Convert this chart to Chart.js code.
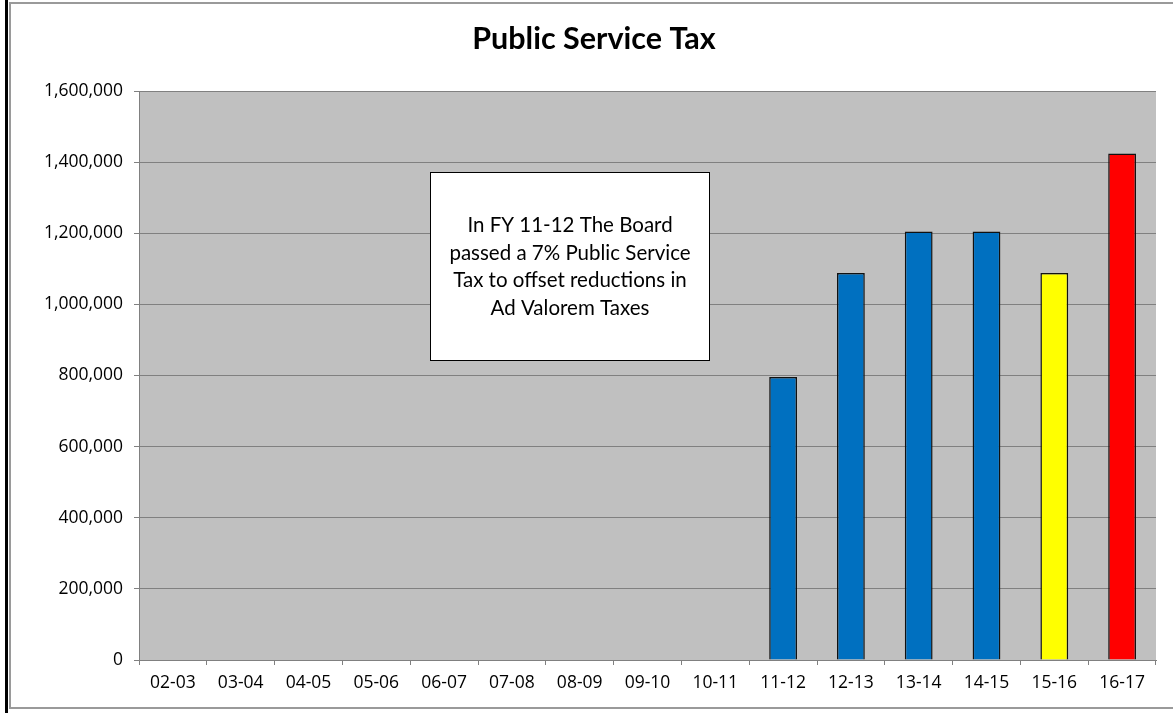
<!DOCTYPE html>
<html>
<head>
<meta charset="utf-8">
<script src="https://cdn.jsdelivr.net/npm/chart.js@4.4.1/dist/chart.umd.min.js"></script>
<style>
  html, body { margin: 0; padding: 0; background: #ffffff; }
  #wrap { position: relative; width: 1173px; height: 713px; }
  canvas { display: block; }
</style>
</head>
<body>
<div id="wrap"><canvas id="c" width="1173" height="713"></canvas></div>
<script>
// ---- data ----
const categories = ['02-03','03-04','04-05','05-06','06-07','07-08','08-09','09-10','10-11','11-12','12-13','13-14','14-15','15-16','16-17'];
const taxValues  = [null, null, null, null, null, null, null, null, null, 796000, 1088000, 1205000, 1205000, 1088000, 1424000];
const barColors  = ['#0070C0','#0070C0','#0070C0','#0070C0','#0070C0','#0070C0','#0070C0','#0070C0','#0070C0','#0070C0','#0070C0','#0070C0','#0070C0','#FFFF00','#FF0000'];
const yTicks     = [0, 200000, 400000, 600000, 800000, 1000000, 1200000, 1400000, 1600000];
const titleText  = 'Public Service Tax';
const noteLines  = ['In FY 11-12 The Board', 'passed a 7% Public Service', 'Tax to offset reductions in', 'Ad Valorem Taxes'];

const decor = {
  id: 'decor',
  beforeDraw(chart) {
    const ctx = chart.ctx, a = chart.chartArea;
    ctx.save();
    ctx.fillStyle = '#ffffff';
    ctx.fillRect(0, 0, chart.width, chart.height);
    // plot background
    ctx.fillStyle = '#C0C0C0';
    ctx.fillRect(a.left, a.top, a.right - a.left, a.bottom - a.top);
    // outer frame
    ctx.fillStyle = '#000000';
    ctx.fillRect(5, 0, 3, chart.height);
    ctx.strokeStyle = '#9a9a9a';
    ctx.lineWidth = 2;
    ctx.strokeRect(10, 3, chart.width - 9, 705);
    // title
    ctx.fillStyle = '#000000';
    ctx.font = 'bold 30.5px Lato';
    ctx.textAlign = 'center';
    ctx.textBaseline = 'middle';
    ctx.fillText(titleText, 594, 39);
    ctx.restore();
  },
  afterDatasetsDraw(chart) {
    const ctx = chart.ctx;
    ctx.save();
    ctx.fillStyle = '#ffffff';
    ctx.fillRect(430, 172, 279, 188);
    ctx.strokeStyle = '#000000';
    ctx.lineWidth = 1;
    ctx.strokeRect(430.5, 172.5, 279, 188);
    ctx.fillStyle = '#000000';
    ctx.font = '20.5px Lato';
    ctx.textAlign = 'center';
    ctx.textBaseline = 'middle';
    const ys = [225, 253, 280, 308];
    noteLines.forEach((t, i) => ctx.fillText(t, 570, ys[i]));
    ctx.restore();
  }
};

new Chart(document.getElementById('c'), {
  type: 'bar',
  data: {
    labels: categories,
    datasets: [{
      data: taxValues,
      backgroundColor: barColors,
      borderColor: '#111111',
      borderWidth: 1.5,
      categoryPercentage: 1.0,
      barPercentage: 0.41
    }]
  },
  options: {
    responsive: false,
    animation: false,
    layout: { padding: { top: 91, right: 17, bottom: 0, left: 0 } },
    plugins: { legend: { display: false }, tooltip: { enabled: false }, title: { display: false } },
    scales: {
      x: {
        afterFit(s) { s.height = 53; },
        grid: { drawOnChartArea: false, drawTicks: true, tickLength: 5, color: '#808080', offset: true },
        border: { display: true, color: '#808080' },
        ticks: { color: '#000000', font: { family: 'Open Sans', size: 17.5 }, padding: 8, maxRotation: 0, autoSkip: false }
      },
      y: {
        min: 0, max: 1600000,
        afterFit(s) { s.width = 139; },
        afterBuildTicks(s) { s.ticks = yTicks.map(v => ({ value: v })); },
        grid: { color: '#808080', tickLength: 5, drawTicks: true },
        border: { display: true, color: '#808080' },
        ticks: {
          color: '#000000', font: { family: 'Open Sans', size: 17.5 }, padding: 11,
          callback: v => Number(v).toLocaleString('en-US')
        }
      }
    }
  },
  plugins: [decor]
});
</script>
</body>
</html>
